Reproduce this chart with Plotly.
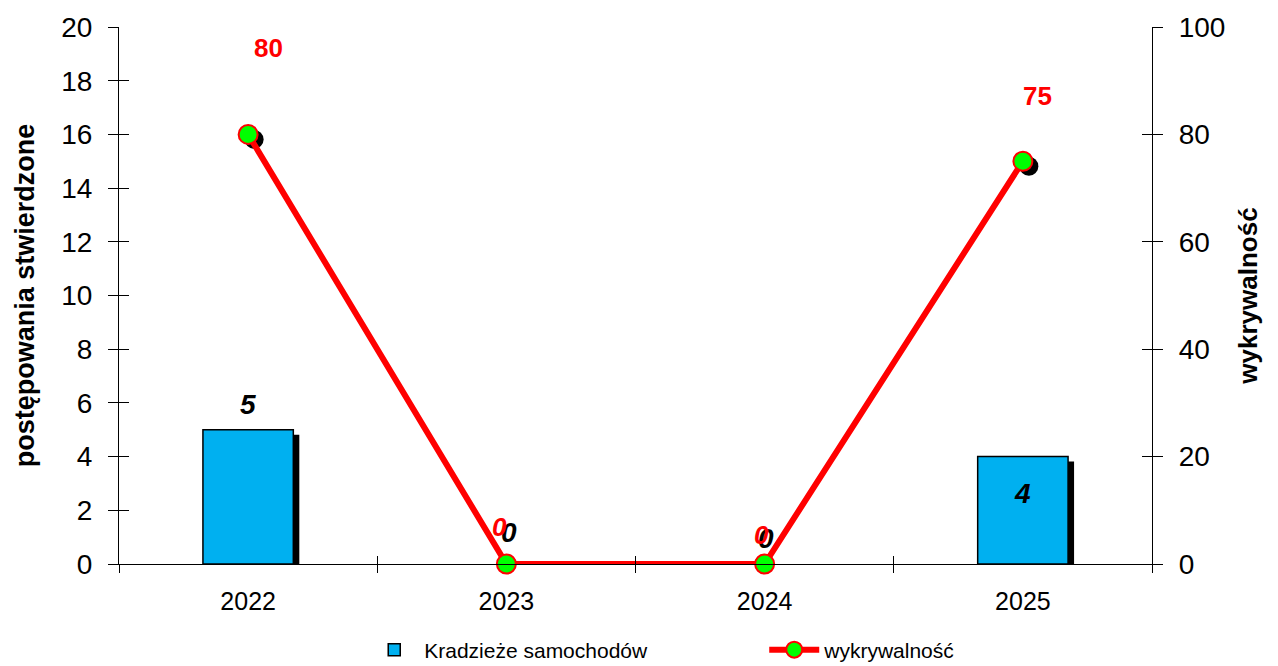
import plotly.graph_objects as go

# ---- data ----
years = ["2022", "2023", "2024", "2025"]
cases = [5, 0, 0, 4]                 # Kradzieże samochodów (left axis)
detection = [80, 0, 0, 75]           # wykrywalność (right axis)
bar_name = "Kradzieże samochodów"
line_name = "wykrywalność"
left_title = "postępowania stwierdzone"
right_title = "wykrywalność"
left_ticks = list(range(0, 21, 2))
right_ticks = list(range(0, 101, 20))

# ---- style ----
FONT = "Liberation Sans, Arial, sans-serif"
BAR_COLOR = "#00B0F0"
LINE_COLOR = "#FF0000"
MARK_COLOR = "#00FF00"
BAR_W = 0.35
PLOT_H = 539.0
PLOT_W = 1033.0
SH_DX = 6 / PLOT_W * 4          # shadow shift in x data units
SH_DY_L = 5 / PLOT_H * 20       # shadow shift on left axis
SH_DY_R = 5 / PLOT_H * 100      # shadow shift on right axis

xs = list(range(len(years)))
bounds = [i - 0.5 for i in range(len(years) + 1)]

fig = go.Figure()

# bar shadows
fig.add_trace(go.Bar(
    x=xs, y=[max(v - SH_DY_L, 0) for v in cases], width=BAR_W,
    offset=-BAR_W / 2 + SH_DX, marker=dict(color="black", line=dict(width=0)),
    showlegend=False, hoverinfo="skip", xaxis="x", yaxis="y"))
# bars
fig.add_trace(go.Bar(
    x=xs, y=cases, width=BAR_W, offset=-BAR_W / 2, name=bar_name,
    marker=dict(color=BAR_COLOR,
                line=dict(color="black", width=[1.5 if v > 0 else 0 for v in cases])),
    xaxis="x", yaxis="y"))
# marker shadows
fig.add_trace(go.Scatter(
    x=[i + SH_DX for i in xs], y=[v - SH_DY_R for v in detection],
    mode="markers", marker=dict(color="black", size=19),
    showlegend=False, hoverinfo="skip", cliponaxis=False,
    xaxis="x", yaxis="y2"))
# line
fig.add_trace(go.Scatter(
    x=xs, y=detection, mode="lines+markers", name=line_name,
    line=dict(color=LINE_COLOR, width=6),
    marker=dict(color=MARK_COLOR, size=19, line=dict(color=LINE_COLOR, width=2)),
    cliponaxis=False, xaxis="x", yaxis="y2"))
# empty traces so the inner-tick overlay axes are drawn
fig.add_trace(go.Scatter(x=[], y=[], xaxis="x3", yaxis="y3", showlegend=False, hoverinfo="skip"))
fig.add_trace(go.Scatter(x=[], y=[], xaxis="x3", yaxis="y4", showlegend=False, hoverinfo="skip"))

# ---- labels ----
ann = []
bar_label_yshift = [25, 32, 26, -37]
bar_label_xshift = [0, 3, 1, 0]
for i, v in enumerate(cases):
    ann.append(dict(x=i, y=v, xref="x", yref="y", text=str(v), showarrow=False,
                    xshift=bar_label_xshift[i], yshift=bar_label_yshift[i],
                    font=dict(family=FONT, size=28, color="black", weight="bold", style="italic")))
line_label_yshift = [86, 37, 29, 65]
line_label_xshift = [20, -7, -3, 15]
for i, v in enumerate(detection):
    ann.append(dict(x=i, y=v, xref="x", yref="y2", text=str(v), showarrow=False,
                    xshift=line_label_xshift[i], yshift=line_label_yshift[i],
                    font=dict(family=FONT, size=26, color=LINE_COLOR, weight="bold",
                              style="italic" if v == 0 else "normal")))

fig.update_layout(
    width=1278, height=666,
    margin=dict(l=119, r=126, t=25, b=102),
    paper_bgcolor="white", plot_bgcolor="white",
    barmode="overlay",
    font=dict(family=FONT, color="black"),
    annotations=ann,
    xaxis=dict(range=[-0.5, 3.5], tickmode="array", tickvals=xs, ticktext=years,
               ticks="", showgrid=False, zeroline=False, showline=True,
               linecolor="black", linewidth=1.2, ticklabelstandoff=15,
               tickfont=dict(family=FONT, size=25),
               minor=dict(tickmode="array", tickvals=bounds, ticks="outside",
                          ticklen=8, tickcolor="black", tickwidth=1.2, showgrid=False)),
    yaxis=dict(range=[0, 20], tickmode="array", tickvals=left_ticks, ticks="outside",
               ticklen=10, tickwidth=1.2, tickcolor="black", showgrid=False,
               zeroline=False, showline=True, linecolor="black", linewidth=1.2,
               ticklabelstandoff=10,
               tickfont=dict(family=FONT, size=28),
               title=dict(text=left_title, standoff=18,
                          font=dict(family=FONT, size=27, weight="bold"))),
    yaxis2=dict(range=[0, 100], overlaying="y", side="right", anchor="x",
                tickmode="array", tickvals=right_ticks, ticks="outside", ticklen=10,
                tickwidth=1.2, tickcolor="black", showgrid=False, zeroline=False,
                showline=True, linecolor="black", linewidth=1.2,
                ticklabelstandoff=10,
                tickfont=dict(family=FONT, size=28),
                title=dict(text=right_title, standoff=14,
                           font=dict(family=FONT, size=26, weight="bold"))),
    xaxis3=dict(range=[-0.5, 3.5], overlaying="x", anchor="y3", tickmode="array",
                tickvals=bounds, ticks="inside", ticklen=8, tickwidth=1.2,
                tickcolor="black", showticklabels=False, showgrid=False,
                zeroline=False, showline=False),
    yaxis3=dict(range=[0, 20], overlaying="y", side="left", anchor="x3",
                tickmode="array", tickvals=left_ticks, ticks="inside", ticklen=10,
                tickwidth=1.2, tickcolor="black", showticklabels=False,
                showgrid=False, zeroline=False, showline=False),
    yaxis4=dict(range=[0, 100], overlaying="y", side="right", anchor="x3",
                tickmode="array", tickvals=right_ticks, ticks="inside", ticklen=10,
                tickwidth=1.2, tickcolor="black", showticklabels=False,
                showgrid=False, zeroline=False, showline=False),
    legend=dict(orientation="h", xref="container", yref="container",
                x=0.285, xanchor="left", y=0.024, yanchor="middle",
                font=dict(family=FONT, size=21), entrywidth=335, itemwidth=50,
                bgcolor="rgba(0,0,0,0)"),
)

fig.write_html("out.html", config={"displayModeBar": False},
               post_script="document.body.style.margin='0';")
